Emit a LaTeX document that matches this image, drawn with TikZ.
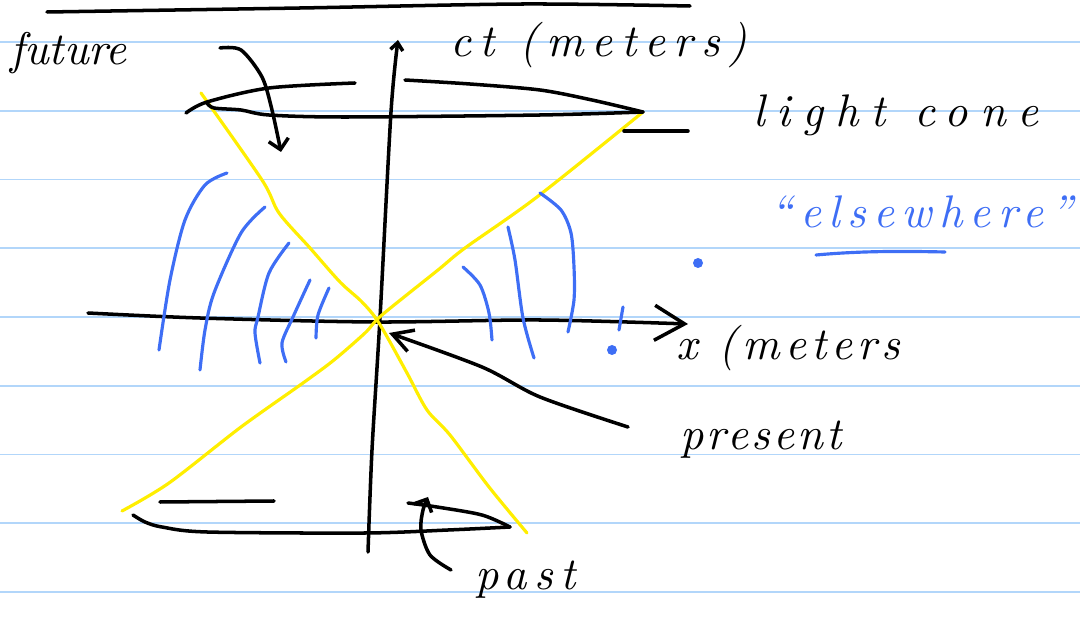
\documentclass[tikz,border=0pt]{standalone}
\usepackage{fontspec}
\usepackage{tikz}
\usetikzlibrary{arrows.meta}
\newfontfamily\handfont{lmroman10-italic.otf}
\definecolor{ruleblue}{RGB}{178,214,250}
\definecolor{penblue}{RGB}{62,110,245}
\definecolor{coneyellow}{RGB}{255,238,0}

\begin{document}
\begin{tikzpicture}[x=0.02cm, y=-0.02cm,
  ruled/.style={ruleblue, line width=1.1pt},
  ink/.style={line width=2pt, line cap=round, line join=round},
  conel/.style={coneyellow, line width=1.8pt, line cap=round},
  hyper/.style={penblue, line width=1.8pt, line cap=round},
  hand/.style={anchor=base west, inner sep=0pt, font=\fontsize{26}{30}\handfont},
  barb/.style={-{Straight Barb[length=2mm, width=4mm]}},
]
\useasboundingbox (0,0) rectangle (1080,618);

% ---- notebook rules ----
\foreach \k in {0,...,8}
  \draw[ruled] (0,{42+68.75*\k}) -- (1080,{42+68.75*\k});

% ---- labels ----
\node[hand] (future) at (10,65) {future};
\node[hand] (ctlbl) at (450,57) {\addfontfeature{LetterSpace=18}ct (meters)};
\node[hand] (light) at (753,127) {\addfontfeature{LetterSpace=26}light cone};
\node[hand, penblue] (else) at (770,228) {\addfontfeature{LetterSpace=16}“elsewhere”};
\node[hand] (xlbl) at (676,360) {\addfontfeature{LetterSpace=11}x (meters};
\node[hand] (present) at (680,450) {\addfontfeature{LetterSpace=7}present};
\node[hand] (past) at (475,590) {\addfontfeature{LetterSpace=16}past};

% ---- points ----
\coordinate (origin) at (375,322);
\coordinate (futtip) at (281,152);
\coordinate (pasttip) at (428,497);
\coordinate (prestip) at (389,333);
\coordinate (cttip) at (398,40);
\coordinate (xtip) at (688,324);

% ---- stroke across the top ----
\draw[ink] plot[smooth] coordinates {(47,12) (300,8) (523,4) (690,6)};

% ---- axes ----
\draw[ink, -{Straight Barb[length=1.5mm, width=2.5mm]}]
  plot[smooth] coordinates {(368,552) (372,450) (380,318) (391,112) (cttip)};
\draw[ink, -{Straight Barb[length=6mm, width=7mm]}]
  plot[smooth] coordinates {(88,313) (200,318) (origin) (540,320) (xtip)};

% ---- light cone ----
\draw[conel] plot[smooth] coordinates {(201,93) (262,180) (279,213) (310,248)
  (340,282) (362,302) (379,323) (407,373) (427,410)
  (450,435) (489,487) (527,533)};
\draw[conel] plot[smooth] coordinates {(643,112) (537,197) (465,248) (438,270)
  (382,315) (365,333) (334,360) (303,383) (241,427) (169,483) (122,511)};

% top of the cone
\draw[ink] plot[smooth] coordinates {(186,113) (207,102) (269,88) (355,83)};
\draw[ink] plot[smooth] coordinates {(405,80) (470,84) (540,90) (592,100) (643,112)};
\draw[ink] plot[smooth] coordinates {(207,103) (214,108) (241,110) (269,115)
  (345,117) (540,115) (643,112)};
\draw[ink] (624,131) -- (688,131);

% bottom of the cone
\draw[ink] plot[smooth] coordinates {(133,515) (145,522) (162,527) (207,532)
  (365,533) (448,530) (510,527)};
\draw[ink] plot[smooth] coordinates {(408,503) (437,507) (482,515) (510,527)};
\draw[ink] (160,502) -- (274,501);

% ---- leaders ----
\draw[ink, barb] plot[smooth] coordinates {(220,48) (241,50) (262,77) (272,110) (futtip)};
\draw[ink, barb] plot[smooth] coordinates {(451,570) (430,555) (421,530) (423,510) (pasttip)};
\draw[ink, -{Straight Barb[length=4mm, width=4.5mm]}]
  plot[smooth] coordinates {(628,427) (540,397) (482,367) (prestip)};

% ---- elsewhere ----
\draw[hyper] plot[smooth] coordinates {(227,173) (205,185) (185,220) (170,280) (159,350)};
\draw[hyper] plot[smooth] coordinates {(265,207) (241,233) (214,293) (205,330) (200,370)};
\draw[hyper] plot[smooth] coordinates {(289,243) (269,273) (258,317) (255,333) (260,363)};
\draw[hyper] plot[smooth] coordinates {(310,280) (293,317) (282,343) (286,362)};
\draw[hyper] plot[smooth] coordinates {(329,288) (318,315) (316,338)};
\draw[hyper] plot[smooth] coordinates {(463,267) (480,285) (489,313) (492,340)};
\draw[hyper] plot[smooth] coordinates {(508,227) (515,260) (523,318) (534,358)};
\draw[hyper] plot[smooth] coordinates {(540,193) (561,210) (571,233) (574,267) (574,300) (568,332)};
\draw[hyper] (623,307) -- (619,330);
\fill[penblue] (612,350) circle (5) (698,263) circle (5);
\draw[hyper] (816,255) .. controls (860,251) and (900,251) .. (945,252);

\end{tikzpicture}
\end{document}
